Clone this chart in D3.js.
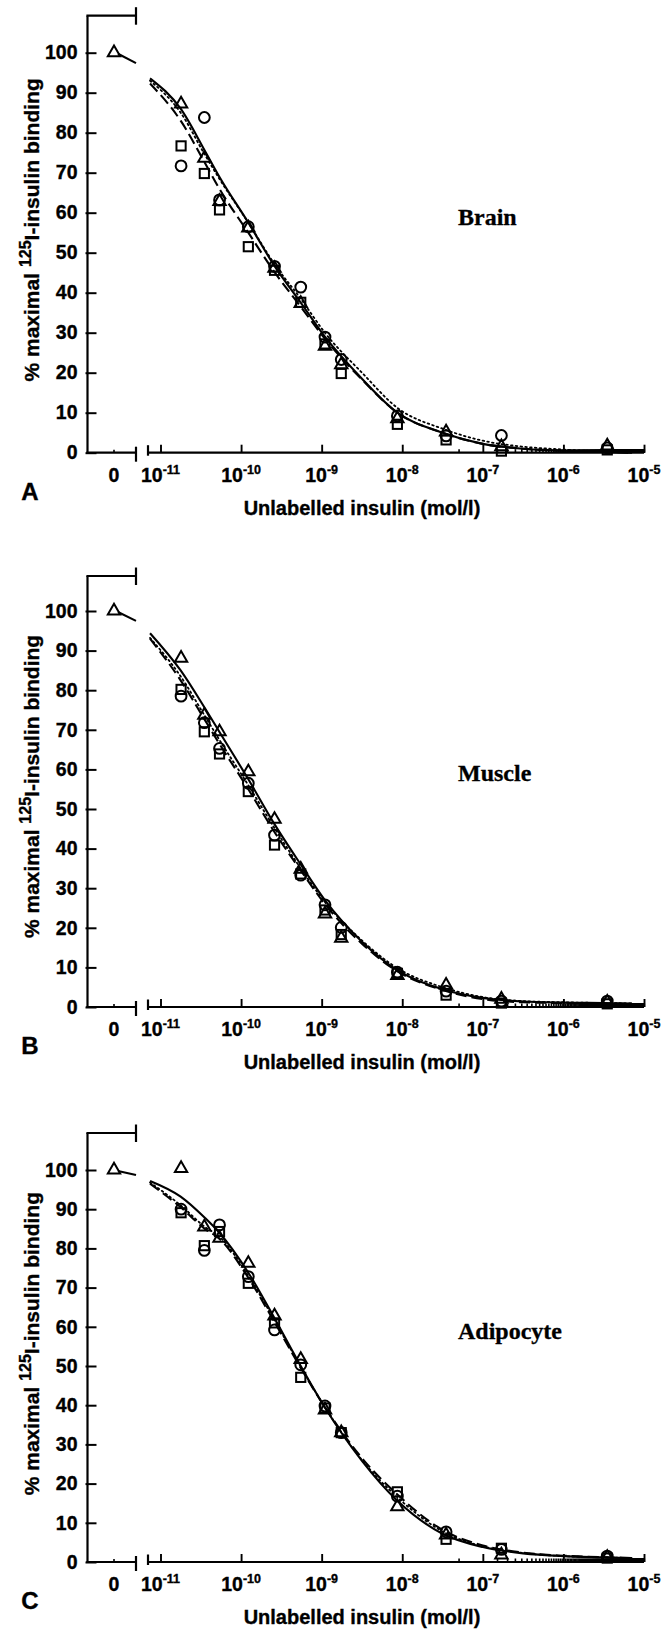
<!DOCTYPE html>
<html><head><meta charset="utf-8">
<script src="https://cdn.jsdelivr.net/npm/d3@7"></script>
<style>body{margin:0;background:#fff} svg{display:block}</style>
</head><body>
<svg id="chart" width="663" height="1630"></svg>
<script>
// ---------- data ----------
const concentrations = [1.8e-11, 3.5e-11, 5.4e-11, 1.23e-10, 2.6e-10, 5.5e-10, 1.1e-9, 1.75e-9, 8.7e-9, 3.5e-8, 1.7e-7, 3.5e-6];
const tissues = ["Brain", "Muscle", "Adipocyte"];
const panelLetters = ["A", "B", "C"];
const yTickValues = [0, 10, 20, 30, 40, 50, 60, 70, 80, 90, 100];
const xDecadeExponents = [-11, -10, -9, -8, -7, -6, -5];
const zeroConcValue = [100, 100, 100];      // triangle at zero insulin
const zeroLineEnd = [97.4, 97.5, 98.7];     // value where the short zero segment ends

const brainTriangle = [87.2, 73.6, 62.8, 56.2, 46.1, 37.3, 26.6, 22.0, 8.5, 5.2, 1.5, 1.7];
const brainCircle   = [71.7, 83.8, 63.2, 56.5, 46.6, 41.4, 28.9, 23.3, 9.2, 4.2, 4.3, 1.2];
const brainSquare   = [76.7, 69.8, 60.7, 51.5, 45.6, 37.6, 27.2, 19.8, 7.1, 3.2, 0.4, 0.7];

const muscleTriangle = [88.1, 73.7, 69.5, 59.4, 47.4, 34.8, 23.5, 17.4, 8.0, 5.5, 2.0, 1.2];
const muscleCircle   = [78.5, 71.8, 65.3, 56.5, 43.4, 33.3, 25.8, 20.1, 8.8, 4.0, 1.5, 1.5];
const muscleSquare   = [80.2, 69.5, 63.9, 54.4, 40.9, 33.6, 24.5, 18.3, 8.5, 3.0, 1.0, 0.8];

const adipTriangle = [100.4, 85.5, 82.6, 76.2, 62.8, 51.7, 38.8, 33.0, 14.1, 6.9, 1.8, 1.2];
const adipCircle   = [90.0, 79.5, 86.0, 72.8, 59.2, 50.3, 39.8, 33.0, 16.8, 7.7, 3.2, 1.5];
const adipSquare   = [89.1, 80.7, 84.3, 71.1, 61.0, 47.1, 39.3, 33.0, 17.9, 5.8, 3.5, 1.0];

// fitted curves, read at these log10 concentrations
const curveLogConc = [-11.13, -10.75, -10.45, -10.27, -9.91, -9.58, -9.26, -8.96, -8.5, -8.06, -7.5, -7.0, -6.5, -6.0, -5.5, -5.15];
const brainSolid  = [93.6, 86.0, 75.5, 69.0, 57.5, 46.5, 37.5, 29.0, 18.5, 10.0, 5.0, 2.2, 1.0, 0.5, 0.2, 0.0];
const brainDashed = [92.3, 83.0, 72.5, 66.0, 55.0, 45.0, 36.5, 28.5, 18.3, 10.0, 5.0, 2.2, 1.0, 0.5, 0.2, 0.0];
const brainDotted = [93.0, 85.0, 74.5, 68.5, 57.5, 47.0, 38.5, 30.0, 20.0, 11.2, 6.0, 3.0, 1.5, 0.8, 0.3, 0.1];
const muscleSolid  = [94.4, 85.0, 75.5, 69.5, 57.5, 46.0, 36.0, 27.0, 16.5, 9.3, 4.5, 2.3, 1.4, 1.1, 1.0, 0.9];
const muscleDashed = [93.0, 82.5, 72.5, 66.5, 55.0, 44.0, 34.5, 26.0, 16.0, 9.0, 4.3, 2.0, 1.2, 1.0, 0.9, 0.8];
const muscleDotted = [93.2, 83.5, 73.5, 67.5, 56.0, 45.0, 35.0, 26.5, 16.8, 9.8, 5.0, 2.5, 1.5, 1.2, 1.0, 0.9];
const adipSolid  = [97.2, 93.2, 87.8, 84.0, 73.8, 62.0, 50.0, 39.4, 25.8, 15.6, 7.2, 3.8, 2.2, 1.5, 1.2, 1.0];
const adipDashed = [96.5, 90.5, 85.0, 82.5, 72.5, 61.0, 49.5, 39.5, 26.5, 17.2, 8.2, 4.2, 2.4, 1.6, 1.2, 1.0];
const adipDotted = [96.8, 91.0, 85.5, 83.0, 73.0, 61.5, 49.8, 39.5, 26.0, 16.5, 7.8, 4.0, 2.3, 1.5, 1.2, 1.0];

const pointSeries = [
  {triangle: brainTriangle, circle: brainCircle, square: brainSquare},
  {triangle: muscleTriangle, circle: muscleCircle, square: muscleSquare},
  {triangle: adipTriangle, circle: adipCircle, square: adipSquare}
];
const curveSeries = [
  {solid: brainSolid, dashed: brainDashed, dotted: brainDotted},
  {solid: muscleSolid, dashed: muscleDashed, dotted: muscleDotted},
  {solid: adipSolid, dashed: adipDashed, dotted: adipDotted}
];

// ---------- layout ----------
const layout = [
  {top: 15.7, y100: 52.7, y0: 452.7},
  {top: 576, y100: 611, y0: 1007},
  {top: 1133, y100: 1170, y0: 1562}
];
const axisX = 87.5, breakX = 136, zeroX = 114, logStartX = 148;
const FONT = "'Liberation Sans', Arial, Helvetica, sans-serif";
const SERIF = "'Liberation Serif', 'Times New Roman', serif";
const TXT_STROKE = 0.35;

const svg = d3.select("#chart");
const x = d3.scaleLog().domain([1e-11, 1e-5]).range([160.5, 644]);
const xStart = x.invert(logStartX);

function boldText(sel, size) {
  return sel.attr("font-family", FONT).attr("font-weight", "bold").attr("font-size", size)
    .attr("fill", "#000").attr("stroke", "#000").attr("stroke-width", TXT_STROKE);
}

layout.forEach((L, i) => {
  const g = svg.append("g");
  const y = d3.scaleLinear().domain([0, 100]).range([L.y0, L.y100]);

  // y axis line + top bracket
  g.append("line").attr("x1", axisX).attr("x2", axisX).attr("y1", L.top).attr("y2", L.y0)
    .attr("stroke", "#000").attr("stroke-width", 2.2);
  g.append("line").attr("x1", axisX - 1.1).attr("x2", breakX).attr("y1", L.top).attr("y2", L.top)
    .attr("stroke", "#000").attr("stroke-width", 2.2);
  g.append("line").attr("x1", breakX).attr("x2", breakX).attr("y1", L.top - 8.5).attr("y2", L.top + 9)
    .attr("stroke", "#000").attr("stroke-width", 2.2);

  // y ticks
  const yAxis = d3.axisLeft(y).tickValues(yTickValues).tickSize(-9).tickPadding(10).tickFormat(d3.format("d"));
  const ya = g.append("g").attr("transform", `translate(${axisX},0)`).call(yAxis);
  ya.select(".domain").remove();
  ya.selectAll(".tick line").attr("x1", -2).attr("stroke-width", 2);
  boldText(ya.selectAll(".tick text"), 19.5);

  // x axis: left (zero) segment
  g.append("line").attr("x1", axisX - 1.1).attr("x2", breakX).attr("y1", L.y0).attr("y2", L.y0)
    .attr("stroke", "#000").attr("stroke-width", 2.2);
  g.append("line").attr("x1", breakX).attr("x2", breakX).attr("y1", L.y0 - 6).attr("y2", L.y0 + 9)
    .attr("stroke", "#000").attr("stroke-width", 2.2);
  g.append("line").attr("x1", zeroX).attr("x2", zeroX).attr("y1", L.y0 - 3).attr("y2", L.y0)
    .attr("stroke", "#000").attr("stroke-width", 1.6);

  // x axis: log segment
  const xAxisScale = x.copy().domain([xStart, 1e-5]).range([logStartX, 644]);
  const allTicks = xAxisScale.ticks(200);
  const majors = xDecadeExponents.map(e => Math.pow(10, e));
  const isMajor = t => majors.some(m => Math.abs(t / m - 1) < 1e-6);
  const minors = allTicks.filter(t => !isMajor(t));
  const minorAxis = d3.axisBottom(xAxisScale).tickValues(minors).tickSize(-3.5).tickFormat("");
  const majorAxis = d3.axisBottom(xAxisScale).tickValues(majors).tickSize(-8).tickFormat("");
  const ma = g.append("g").attr("transform", `translate(0,${L.y0})`).call(minorAxis);
  ma.select(".domain").attr("stroke-width", 2.2).attr("d", `M${logStartX},0H644`);
  ma.selectAll(".tick line").attr("stroke-width", 1.6);
  const Ma = g.append("g").attr("transform", `translate(0,${L.y0})`).call(majorAxis);
  Ma.select(".domain").remove();
  Ma.selectAll(".tick line").attr("stroke-width", 1.9);
  g.append("line").attr("x1", logStartX).attr("x2", logStartX).attr("y1", L.y0 - 7.5).attr("y2", L.y0 + 3)
    .attr("stroke", "#000").attr("stroke-width", 2.2);

  // x tick labels
  const labY = L.y0 + 29;
  boldText(g.append("text").attr("x", zeroX).attr("y", labY).attr("text-anchor", "middle"), 19.5).text("0");
  xDecadeExponents.forEach(e => {
    const t = boldText(g.append("text").attr("x", x(Math.pow(10, e))).attr("y", labY).attr("text-anchor", "middle"), 19.5);
    t.append("tspan").text("10");
    t.append("tspan").attr("font-size", 12.5).attr("dy", -8).text(String(e));
  });

  // panel letter and axis titles
  boldText(g.append("text").attr("x", 30).attr("y", L.y0 + 47).attr("text-anchor", "middle"), 24).text(panelLetters[i]);
  boldText(g.append("text").attr("x", 362).attr("y", L.y0 + 62).attr("text-anchor", "middle"), 20)
    .text("Unlabelled insulin (mol/l)");
  const ty = boldText(g.append("text").attr("transform", `translate(39,${y(55.7)}) rotate(-90)`)
    .attr("text-anchor", "middle"), 21);
  ty.append("tspan").text("% maximal ");
  ty.append("tspan").attr("font-size", 16).attr("dy", -8).text("125");
  ty.append("tspan").attr("dy", 8).text("I-insulin binding");

  // tissue label
  g.append("text").attr("x", 458).attr("y", y(59) + 8)
    .attr("font-family", SERIF).attr("font-weight", "bold").attr("font-size", 24)
    .attr("stroke", "#000").attr("stroke-width", 0.3).text(tissues[i]);

  // zero-concentration segment
  g.append("line").attr("x1", zeroX + 4).attr("y1", y(zeroConcValue[i]) + 1)
    .attr("x2", breakX).attr("y2", y(zeroLineEnd[i])).attr("stroke", "#000").attr("stroke-width", 2.1);

  // curves
  const line = d3.line().x(d => x(Math.pow(10, d[0]))).y(d => y(d[1])).curve(d3.curveMonotoneX);
  const C = curveSeries[i];
  const styles = {solid: null, dashed: "11,5", dotted: "1.6,3.2"};
  ["dotted", "dashed", "solid"].forEach(k => {
    const pts = curveLogConc.map((l, j) => [l, C[k][j]]);
    g.append("path").attr("d", line(pts)).attr("fill", "none").attr("stroke", "#000")
      .attr("stroke-width", k === "dotted" ? 1.8 : 2.1)
      .attr("stroke-linecap", k === "dotted" ? "round" : "butt")
      .attr("stroke-dasharray", styles[k]);
  });

  // markers
  const P = pointSeries[i];
  const mk = g.append("g").attr("fill", "none").attr("stroke", "#000").attr("stroke-width", 2);
  mk.selectAll("rect").data(concentrations.map((c, j) => [c, P.square[j]])).join("rect")
    .attr("x", d => x(d[0]) - 4.6).attr("y", d => y(d[1]) - 4.6).attr("width", 9.2).attr("height", 9.2);
  mk.selectAll("circle").data(concentrations.map((c, j) => [c, P.circle[j]])).join("circle")
    .attr("cx", d => x(d[0])).attr("cy", d => y(d[1])).attr("r", 5.4);
  const tri = d3.symbol().type(d3.symbolTriangle).size(66);
  mk.selectAll("path.tri").data(concentrations.map((c, j) => [c, P.triangle[j]])).join("path").attr("class", "tri")
    .attr("d", tri).attr("transform", d => `translate(${x(d[0])},${y(d[1])})`);
  mk.append("path").attr("d", tri).attr("transform", `translate(${zeroX},${y(zeroConcValue[i])})`);
});
</script>
</body></html>
